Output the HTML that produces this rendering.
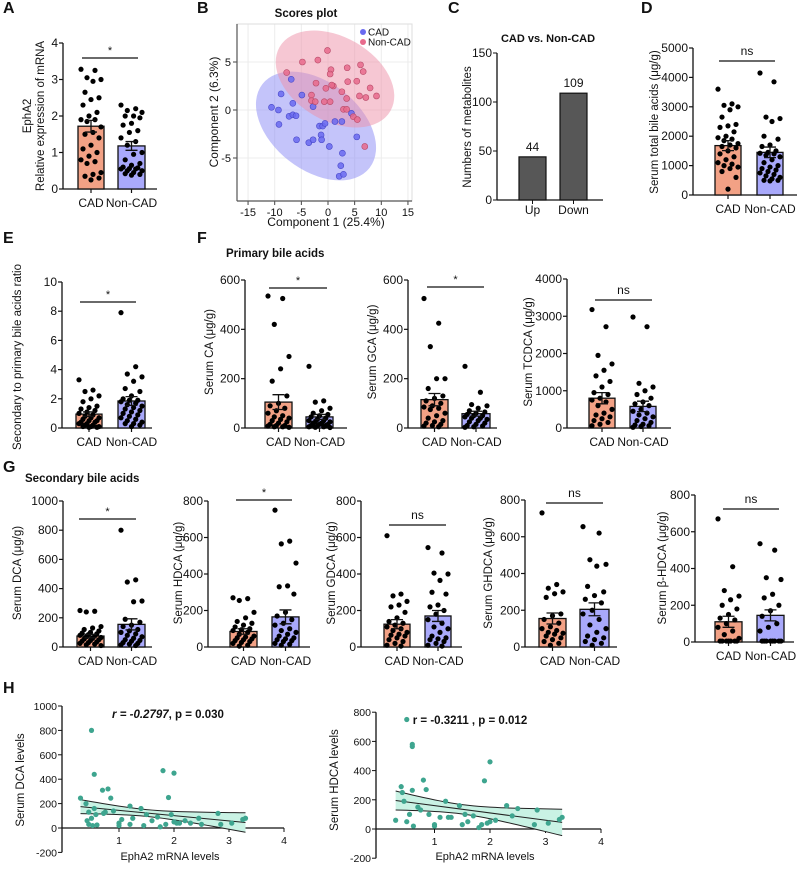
<!DOCTYPE html>
<html><head><meta charset="utf-8">
<style>
html,body{margin:0;padding:0;background:#fff;}
svg{display:block;font-family:"Liberation Sans",Arial,sans-serif;}
</style></head>
<body>
<svg id="fig" width="800" height="869" viewBox="0 0 800 869" xmlns="http://www.w3.org/2000/svg">
<rect width="800" height="869" fill="#fff"/>
</svg>
<script>
// ---------- DATA ----------
const groups = ["CAD", "Non-CAD"];
const aCAD = [3.28,3.25,3.05,3.0,2.95,2.65,2.5,2.45,2.3,2.1,2.0,1.9,1.9,1.85,1.7,1.55,1.5,1.4,1.2,1.1,1.0,0.9,0.8,0.75,0.7,0.45,0.4,0.35,0.3,0.25];
const aNON = [2.3,2.2,2.15,2.1,2.0,2.0,1.95,1.8,1.75,1.6,1.55,1.4,1.3,1.2,1.0,0.95,0.8,0.7,0.65,0.6,0.58,0.56,0.55,0.55,0.5,0.5,0.45,0.42,0.4,0.38];
const aMean = [1.72,1.18]; const aSem = [0.16,0.12];
const bCADx = [-10.6,-8.8,-9.3,-9.2,-7.3,-6.6,-6.6,-6.0,-5.9,-4.9,-3.6,-2.8,-2.8,-1.6,-1.3,-1.2,-1.0,-0.56,0.25,1.3,2.6,2.7,2.4,2.1,2.9,4.4,5.4,-6.9];
const bCADy = [0.28,1.67,0,-1.5,-0.66,0.7,-0.5,-0.6,-3.1,1.56,-3.4,-3.1,0.35,-1.67,-2.6,-3.1,-1.67,-1.4,-3.8,-1.2,-1.2,-4.5,-5.8,-6.9,-6.7,-0.35,-2.8,3.2];
const bNONx = [-7.75,-4.8,-1.9,-0.1,0.56,0.4,-0.4,-2.25,-3.1,-3.1,-2.4,-0.7,0.4,1.0,0.7,2.6,3.5,3.7,3.6,5.4,6.1,6.6,7.1,7.9,9.1,5.9,2.9,3.5,4.75,5.5,6.9];
const bNONy = [3.9,5.0,5.2,6.2,4.2,3.75,2.26,2.8,1.56,0.97,0.87,0.87,0.87,2.5,2.6,1.9,1.2,2.95,4.4,3.0,4.7,4.0,1.3,2.3,1.46,1.46,0.07,0.07,-0.7,-1.0,-3.8];
const cCats = ["Up","Down"]; const cVals = [44,109];
const dCAD = [3600,3100,3050,3000,2900,2650,2400,2350,2300,2150,2000,1950,1900,1850,1750,1700,1650,1600,1500,1400,1300,1200,1100,1050,1000,950,900,800,600,200];
const dNON = [4150,3850,2650,2600,2500,2000,1900,1700,1650,1500,1450,1420,1400,1350,1300,1200,1100,1000,950,900,850,800,750,700,650,600,550,500,500,480];
const dMean = [1680,1450]; const dSem = [170,180];
const eCAD = [3.3,2.6,2.5,2.2,2.0,1.8,1.5,1.4,1.3,1.2,1.1,1.0,0.9,0.8,0.7,0.7,0.6,0.5,0.5,0.4,0.4,0.3,0.3,0.2,0.2,0.1,0.1,0.1,0.05,0.05];
const eNON = [7.9,4.2,3.7,3.5,3.2,2.7,2.5,2.2,2.0,1.9,1.9,1.8,1.7,1.6,1.5,1.4,1.3,1.2,1.1,1.0,0.9,0.8,0.7,0.6,0.5,0.4,0.3,0.3,0.2,0.1];
const eMean = [0.95,1.85]; const eSem = [0.15,0.3];
const caCAD = [535,525,420,290,240,190,130,100,90,80,70,60,50,45,40,35,30,25,20,15,10,10,8,5,5,3];
const caNON = [250,110,105,80,70,60,55,50,45,40,35,30,30,25,25,20,20,15,15,10,10,8,5,5,3,2];
const caMean = [105,45]; const caSem = [30,10];
const gcaCAD = [525,425,330,200,200,160,130,120,110,100,90,85,80,75,60,50,40,30,25,20,15,10,8,5];
const gcaNON = [250,145,95,90,80,70,65,60,55,50,50,45,40,40,35,30,25,20,15,10,8,5,3];
const gcaMean = [115,58]; const gcaSem = [25,10];
const tcCAD = [3180,2720,1950,1720,1550,1400,1250,1100,950,900,800,750,700,600,500,400,350,300,250,200,150,100,60];
const tcNON = [2980,2720,1200,1100,1000,900,800,700,650,600,500,450,400,350,300,250,200,150,100,80,60,40,20];
const tcMean = [800,580]; const tcSem = [150,140];
const dcaCAD = [250,245,240,140,130,120,110,100,95,90,85,80,75,70,65,60,55,50,45,40,35,30,25,20,15,10];
const dcaNON = [800,460,445,315,310,190,170,150,140,120,110,100,90,80,70,60,50,45,40,30,25,20,15,10];
const dcaMean = [75,155]; const dcaSem = [12,38];
const hdCAD = [270,265,255,190,160,140,130,120,110,100,95,90,80,70,60,55,50,45,40,35,30,25,20,10,5];
const hdNON = [750,580,565,460,335,330,290,190,170,150,130,120,100,90,80,70,60,50,45,40,35,30,20,15,10];
const hdMean = [85,165]; const hdSem = [15,38];
const gdCAD = [610,290,280,250,230,220,190,160,140,130,120,110,100,90,80,70,65,60,50,40,30,20,10,5];
const gdNON = [545,515,405,400,365,300,290,230,220,200,180,150,130,110,100,80,60,50,45,40,30,20,10,5];
const gdMean = [125,170]; const gdSem = [25,30];
const ghCAD = [730,340,320,300,290,270,180,170,150,130,110,100,90,80,75,70,60,50,40,30,20,10];
const ghNON = [655,620,475,450,440,330,300,280,260,240,200,180,150,120,100,80,60,50,40,30,20,10];
const ghMean = [155,205]; const ghSem = [30,35];
const bhCAD = [670,410,280,250,230,200,180,150,130,120,100,80,60,40,20,5,5,5,5,5,5,5];
const bhNON = [535,500,350,340,260,240,200,170,140,100,80,60,5,5,5,5,5,5,5,5];
const bhMean = [110,145]; const bhSem = [30,30];
const hLx = [0.3,0.4,0.42,0.45,0.5,0.5,0.52,0.55,0.55,0.58,0.6,0.45,0.7,0.72,0.75,0.8,0.85,0.9,1.0,1.0,1.05,1.2,1.2,1.25,1.4,1.45,1.5,1.6,1.7,1.8,1.85,1.9,1.95,2.0,2.0,2.1,2.2,2.3,2.45,2.5,2.8,2.85,3.05,3.25,3.3,1.75,2.05];
const hLy = [245,200,60,30,800,80,20,440,160,110,25,130,310,120,130,320,245,140,20,40,70,180,30,80,160,20,110,60,90,470,30,250,110,450,50,40,60,40,80,30,120,30,40,70,80,10,40];
const hRx = [0.3,0.4,0.42,0.45,0.5,0.5,0.55,0.6,0.6,0.6,0.62,0.7,0.75,0.8,0.85,0.9,1.0,1.0,1.1,1.2,1.25,1.3,1.45,1.5,1.55,1.6,1.7,1.8,1.85,1.9,1.95,2.0,2.0,2.1,2.3,2.4,2.5,2.8,2.85,3.05,3.25,3.3];
const hRy = [60,290,250,190,750,50,100,580,565,265,20,150,130,335,270,100,20,30,80,190,80,80,160,30,100,50,90,10,30,330,40,460,50,60,160,90,140,30,130,40,65,80];
const hLfit = [188,-43.3]; const hRfit = [210,-50];

// ---------- HELPERS ----------
const svg = document.getElementById('fig');
const NS = 'http://www.w3.org/2000/svg';
function el(tag, attrs, parent){ const e=document.createElementNS(NS,tag); for(const k in attrs) e.setAttribute(k,attrs[k]); (parent||svg).appendChild(e); return e; }
function txt(s, x, y, size, opts, parent){ opts=opts||{}; const t=el('text',{x:x,y:y,'font-size':size,'text-anchor':opts.anchor||'middle',fill:'#111'},parent); if(opts.bold) t.setAttribute('font-weight','bold'); if(opts.rot) t.setAttribute('transform','rotate(-90 '+x+' '+y+')'); if(opts.italic) t.setAttribute('font-style','italic'); t.textContent=s; return t; }
const COLORS = ['#f2a185','#a9a9fb'];

function panelLetter(s,x,y){ const t=txt(s,x,y,16,{bold:true,anchor:'start'});   }

function barPanel(c){
  const g=el('g',{});
  
  
  const ys = v => c.y0 - (v/c.vmax)*(c.y0-c.yt);
  const ya=el('line',{x1:c.ax,y1:c.yt,x2:c.ax,y2:c.y0,stroke:'#111','stroke-width':1.3},g);
   
  const xa=el('line',{x1:c.ax,y1:c.y0,x2:c.axEnd,y2:c.y0,stroke:'#111','stroke-width':1.3},g);
   
  c.ticks.forEach(t=>{
    el('line',{x1:c.ax-4,y1:ys(t),x2:c.ax,y2:ys(t),stroke:'#111','stroke-width':1.2},g);
    const lb=txt(String(t),c.ax-5,ys(t)+4,12,{anchor:'end'},g);
     
  });
  c.vals.forEach((vals,gi)=>{
    const [x1,x2]=c.bars[gi]; const cx=(x1+x2)/2; const w=x2-x1;
    const b=el('rect',{x:x1,y:ys(c.means[gi]),width:w,height:c.y0-ys(c.means[gi]),fill:COLORS[gi],stroke:'#111','stroke-width':1.3},g);
    
    
    el('line',{x1:cx,y1:c.y0,x2:cx,y2:c.y0+4,stroke:'#111','stroke-width':1.2},g);
    const lb=txt(groups[gi],cx,c.labY,12,{},g);
     
    vals.forEach((v,i)=>{
      const off=(((i*7)%11)-5)/5*(w/2-3);
      const d=el('circle',{cx:cx+off,cy:ys(v),r:2.6,fill:'#000'},g);
      
      
    });
    const top=ys(c.means[gi]+c.sems[gi]), bot=ys(c.means[gi]-c.sems[gi]);
    const eb=el('path',{d:`M${cx} ${top}V${bot}M${cx-6} ${top}H${cx+6}M${cx-6} ${bot}H${cx+6}`,stroke:'#111','stroke-width':1.3,fill:'none'},g);
     
  });
  const sl=el('line',{x1:c.sigX[0],y1:c.sigY,x2:c.sigX[1],y2:c.sigY,stroke:'#111','stroke-width':1.3},g);
   
  const st=txt(c.sig,(c.sigX[0]+c.sigX[1])/2,c.sigY-(c.sig==='*'?4:6),c.sig==='*'?11:12,{},g);
   
  c.ylab.forEach((s,i)=>{
    const t=txt(s,c.ylabX[i],c.ylabY,11.5,{rot:true},g);
     
  });
}

// ---------- PANEL LETTERS & TITLES ----------
panelLetter('A',3,13); panelLetter('B',197,13); panelLetter('C',448,13); panelLetter('D',641,13);
panelLetter('E',3,243); panelLetter('F',197,243); panelLetter('G',3,472); panelLetter('H',3,693);
let tt=txt('Primary bile acids',226,257,11.5,{bold:true,anchor:'start'});  
tt=txt('Secondary bile acids',25,482,11.5,{bold:true,anchor:'start'});  

// ---------- BAR PANELS ----------
barPanel({name:'panel-a-epha2',ax:63,y0:189,yt:43,vmax:4,ticks:[0,1,2,3,4],bars:[[78,104],[118,145]],axEnd:157,vals:[aCAD,aNON],means:aMean,sems:aSem,sig:'*',sigY:58,sigX:[82,138],labY:207,ylab:['EphA2','Relative expression of mRNA'],ylabX:[31,44],ylabY:116});
barPanel({name:'panel-d-total-bile-acids',ax:693,y0:195,yt:48,vmax:5000,ticks:[0,1000,2000,3000,4000,5000],bars:[[715,741],[757,783]],axEnd:797,vals:[dCAD,dNON],means:dMean,sems:dSem,sig:'ns',sigY:61,sigX:[719,775],labY:213,ylab:['Serum total bile acids (μg/g)'],ylabX:[658],ylabY:122});
barPanel({name:'panel-e-ratio',ax:62,y0:428,yt:282,vmax:10,ticks:[0,2,4,6,8,10],bars:[[76,102],[118,145]],axEnd:152,vals:[eCAD,eNON],means:eMean,sems:eSem,sig:'*',sigY:302,sigX:[80,136],labY:446,ylab:['Secondary to primary bile acids ratio'],ylabX:[21],ylabY:357});
barPanel({name:'panel-f-ca',ax:245,y0:428,yt:280,vmax:600,ticks:[0,200,400,600],bars:[[265,292],[306,333]],axEnd:347,vals:[caCAD,caNON],means:caMean,sems:caSem,sig:'*',sigY:288,sigX:[269,327],labY:446,ylab:['Serum CA (μg/g)'],ylabX:[213],ylabY:352});
barPanel({name:'panel-f-gca',ax:408,y0:428,yt:280,vmax:600,ticks:[0,200,400,600],bars:[[421,448],[462,490]],axEnd:497,vals:[gcaCAD,gcaNON],means:gcaMean,sems:gcaSem,sig:'*',sigY:287,sigX:[427,484],labY:446,ylab:['Serum GCA (μg/g)'],ylabX:[376],ylabY:352});
barPanel({name:'panel-f-tcdca',ax:567,y0:428,yt:279,vmax:4000,ticks:[0,1000,2000,3000,4000],bars:[[589,615],[630,656]],axEnd:671,vals:[tcCAD,tcNON],means:tcMean,sems:tcSem,sig:'ns',sigY:300,sigX:[595,652],labY:446,ylab:['Serum TCDCA (μg/g)'],ylabX:[532],ylabY:352});
barPanel({name:'panel-g-dca',ax:63,y0:647,yt:501,vmax:1000,ticks:[0,200,400,600,800,1000],bars:[[77,104],[118,145]],axEnd:152,vals:[dcaCAD,dcaNON],means:dcaMean,sems:dcaSem,sig:'*',sigY:519,sigX:[79,136],labY:665,ylab:['Serum DCA (μg/g)'],ylabX:[21],ylabY:573});
barPanel({name:'panel-g-hdca',ax:208,y0:647,yt:501,vmax:800,ticks:[0,200,400,600,800],bars:[[230,257],[272,299]],axEnd:310,vals:[hdCAD,hdNON],means:hdMean,sems:hdSem,sig:'*',sigY:500,sigX:[236,292],labY:665,ylab:['Serum HDCA (μg/g)'],ylabX:[182],ylabY:573});
barPanel({name:'panel-g-gdca',ax:361,y0:647,yt:501,vmax:800,ticks:[0,200,400,600,800],bars:[[384,410],[425,451]],axEnd:462,vals:[gdCAD,gdNON],means:gdMean,sems:gdSem,sig:'ns',sigY:525,sigX:[389,446],labY:665,ylab:['Serum GDCA (μg/g)'],ylabX:[335],ylabY:573});
barPanel({name:'panel-g-ghdca',ax:525,y0:647,yt:500,vmax:800,ticks:[0,200,400,600,800],bars:[[539,566],[580,609]],axEnd:617,vals:[ghCAD,ghNON],means:ghMean,sems:ghSem,sig:'ns',sigY:503,sigX:[546,603],labY:665,ylab:['Serum GHDCA (μg/g)'],ylabX:[492],ylabY:573});
barPanel({name:'panel-g-bhdca',ax:695,y0:642,yt:495,vmax:800,ticks:[0,200,400,600,800],bars:[[715,742],[757,784]],axEnd:794,vals:[bhCAD,bhNON],means:bhMean,sems:bhSem,sig:'ns',sigY:509,sigX:[723,779],labY:660,ylab:['Serum β-HDCA (μg/g)'],ylabX:[666],ylabY:568});

// ---------- PANEL B: SCORES PLOT ----------
(function(){
  const g=el('g',{});  
  const xs=v=>328+v*5.33, ys=v=>110-v*9.6;
  const L=237,R=412,T=24,B=201;
  [-15,-10,-5,0,5,10,15].forEach(t=>{ el('line',{x1:xs(t),y1:T,x2:xs(t),y2:B,stroke:'#ececec','stroke-width':1},g);
    el('line',{x1:xs(t),y1:B,x2:xs(t),y2:B+4,stroke:'#444'},g);
    const l=txt(String(t),xs(t),B+15,11,{},g);   });
  [-5,0,5].forEach(t=>{ el('line',{x1:L,y1:ys(t),x2:R,y2:ys(t),stroke:'#ececec','stroke-width':1},g);
    el('line',{x1:L-4,y1:ys(t),x2:L,y2:ys(t),stroke:'#444'},g);
    const l=txt(String(t),L-6,ys(t)+4,11,{anchor:'end'},g);   });
  el('rect',{x:L,y:T,width:R-L,height:B-T,fill:'none',stroke:'#ddd'},g);
  el('line',{x1:L,y1:T,x2:L,y2:B,stroke:'#555','stroke-width':1.2},g);
  el('line',{x1:L,y1:B,x2:R,y2:B,stroke:'#555','stroke-width':1.2},g);
  const e1=el('ellipse',{cx:316,cy:126,rx:68,ry:44,fill:'#8a8af5','fill-opacity':0.5,transform:'rotate(38 316 126)'},g);
   
  const e2=el('ellipse',{cx:335,cy:79,rx:64,ry:42,fill:'#ee8fa8','fill-opacity':0.5,transform:'rotate(30 335 79)'},g);
   
  bCADx.forEach((x,i)=>{ const p=el('circle',{cx:xs(x),cy:ys(bCADy[i]),r:3,fill:'#6a6af0',stroke:'#4848c8','stroke-width':0.6,'fill-opacity':0.85},g);
      });
  bNONx.forEach((x,i)=>{ const p=el('circle',{cx:xs(x),cy:ys(bNONy[i]),r:3,fill:'#e86a8c',stroke:'#b84a68','stroke-width':0.6,'fill-opacity':0.85},g);
      });
  let t=txt('Scores plot',306,17,11.5,{bold:true},g);  
  t=txt('Component 1 (25.4%)',326,226,12,{},g);  
  t=txt('Component 2 (6.3%)',218,112,12,{rot:true},g);  
  const lg=el('g',{},g);  
  el('circle',{cx:363,cy:32,r:3,fill:'#6a6af0'},lg); txt('CAD',368,35.5,10,{anchor:'start'},lg);
  el('circle',{cx:363,cy:42,r:3,fill:'#e86a8c'},lg); txt('Non-CAD',368,45.5,10,{anchor:'start'},lg);
})();

// ---------- PANEL C ----------
(function(){
  const g=el('g',{});  
  const ax=497,y0=200,yt=53,vmax=150; const ys=v=>y0-v/vmax*(y0-yt);
  el('line',{x1:ax,y1:yt,x2:ax,y2:y0,stroke:'#111','stroke-width':1.3},g);
  el('line',{x1:ax,y1:y0,x2:603,y2:y0,stroke:'#111','stroke-width':1.3},g);
  [0,50,100,150].forEach(t=>{ el('line',{x1:ax-4,y1:ys(t),x2:ax,y2:ys(t),stroke:'#111'},g); txt(String(t),ax-5,ys(t)+4,12,{anchor:'end'},g); });
  const bx=[[519,546],[560,587]];
  cVals.forEach((v,i)=>{ const b=el('rect',{x:bx[i][0],y:ys(v),width:27,height:y0-ys(v),fill:'#575757',stroke:'#111','stroke-width':1.2},g);
     
    const vl=txt(String(v),(bx[i][0]+bx[i][1])/2,ys(v)-6,12,{},g);  
    el('line',{x1:(bx[i][0]+bx[i][1])/2,y1:y0,x2:(bx[i][0]+bx[i][1])/2,y2:y0+4,stroke:'#111'},g);
    const cl=txt(cCats[i],(bx[i][0]+bx[i][1])/2,214,12,{},g);   });
  let t=txt('CAD vs. Non-CAD',548,42,11,{bold:true},g);  
  t=txt('Numbers of metabolites',471,127,11.5,{rot:true},g);  
})();

// ---------- PANEL H ----------
function corrPanel(c){
  const g=el('g',{});  
  const xs=v=>c.x0+v*c.kx, ys=v=>c.y0-v*c.ky;
  el('line',{x1:c.ax,y1:ys(c.ymax),x2:c.ax,y2:ys(-200),stroke:'#111','stroke-width':1.3},g);
  el('line',{x1:c.ax,y1:ys(0),x2:xs(4),y2:ys(0),stroke:'#111','stroke-width':1.3},g);
  c.yt.forEach(t=>{ el('line',{x1:c.ax-4,y1:ys(t),x2:c.ax,y2:ys(t),stroke:'#111'},g); txt(String(t),c.ax-5,ys(t)+4,10.5,{anchor:'end'},g); });
  [1,2,3,4].forEach(t=>{ el('line',{x1:xs(t),y1:ys(0),x2:xs(t),y2:ys(0)+4,stroke:'#111'},g); txt(String(t),xs(t),ys(0)+16,10.5,{},g); });
  const xm=1.5, pts=[]; for(let i=0;i<=30;i++) pts.push(0.3+i*0.1);
  const f=x=>c.fit[0]+c.fit[1]*x, hw=x=>Math.sqrt(c.h0*c.h0+c.k2*(x-xm)*(x-xm));
  const up=pts.map(x=>[xs(x),ys(f(x)+hw(x))]), lo=pts.map(x=>[xs(x),ys(f(x)-hw(x))]);
  const band=el('path',{d:'M'+up.map(p=>p.join(' ')).join('L')+'L'+lo.slice().reverse().map(p=>p.join(' ')).join('L')+'Z',fill:'#c9f2e4',stroke:'none'},g);
   
  const pu=el('path',{d:'M'+up.map(p=>p.join(' ')).join('L'),stroke:'#222',fill:'none','stroke-width':1},g);  
  const pl=el('path',{d:'M'+lo.map(p=>p.join(' ')).join('L'),stroke:'#222',fill:'none','stroke-width':1},g);  
  const fl=el('line',{x1:xs(0.3),y1:ys(f(0.3)),x2:xs(3.3),y2:ys(f(3.3)),stroke:'#222','stroke-width':1},g);  
  c.px.forEach((x,i)=>{ const p=el('circle',{cx:xs(x),cy:ys(c.py[i]),r:2.6,fill:'#3ea58f'},g);   });
  let t=txt('EphA2 mRNA levels',c.xlabX,860,11,{},g);  
  t=txt(c.ylab,c.ylabX,780,11.5,{rot:true},g);  
  t=el('text',{x:c.annX,y:c.annY,'font-size':11.5,'font-weight':'bold','text-anchor':'middle',fill:'#111'},g);
   
  t.innerHTML=c.ann;
}
corrPanel({name:'panel-h-dca',ax:62,x0:64,kx:55,y0:828,ky:0.122,ymax:1000,yt:[-200,0,200,400,600,800,1000],fit:hLfit,h0:28,k2:1712,px:hLx,py:hLy,xlabX:170,ylab:'Serum DCA levels',ylabX:24,annX:168,annY:718,ann:'<tspan font-style="italic">r = -0.2797</tspan>, p = 0.030'});
corrPanel({name:'panel-h-hdca',ax:376,x0:379,kx:55.5,y0:829,ky:0.146,ymax:800,yt:[-200,0,200,400,600,800],fit:hRfit,h0:32,k2:2223,px:hRx,py:hRy,xlabX:485,ylab:'Serum HDCA levels',ylabX:338,annX:470,annY:724,ann:'r = -0.3211 , p = 0.012'});
</script>
</body></html>
